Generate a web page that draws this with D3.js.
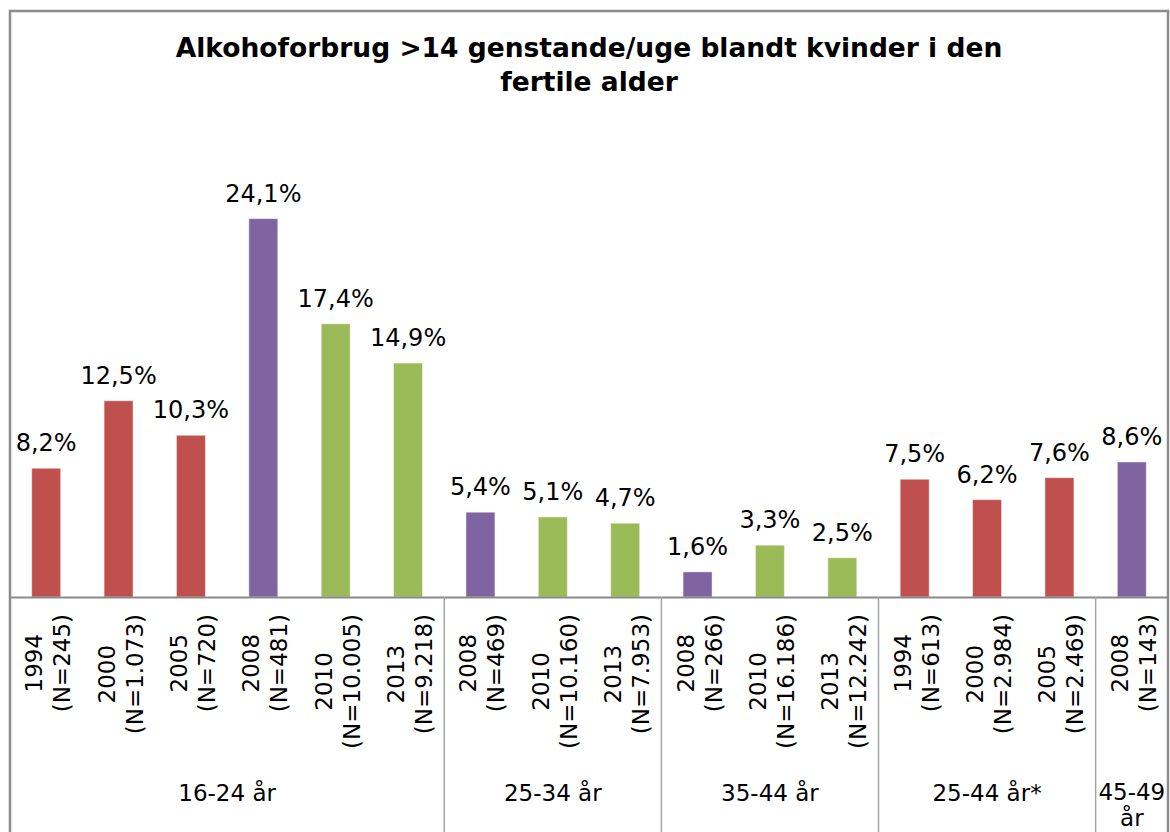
<!DOCTYPE html>
<html>
<head>
<meta charset="utf-8">
<script src="https://cdn.jsdelivr.net/npm/d3@7"></script>
<style>
  html, body { margin: 0; padding: 0; background: #fff; }
  svg { display: block; }
  text { font-family: "DejaVu Sans", Verdana, sans-serif; fill: #000; }
</style>
</head>
<body>
<svg id="chart" width="1170" height="832"></svg>
<script>
// ---- Data ----
const titleLines = ["Alkohoforbrug >14 genstande/uge blandt kvinder i den", "fertile alder"];
const groups = ["16-24 år", "25-34 år", "35-44 år", "25-44 år*", "45-49 år"];
const groupSizes = [6, 3, 3, 3, 1];
const years = ["1994", "2000", "2005", "2008", "2010", "2013",
               "2008", "2010", "2013",
               "2008", "2010", "2013",
               "1994", "2000", "2005",
               "2008"];
const nLabels = ["(N=245)", "(N=1.073)", "(N=720)", "(N=481)", "(N=10.005)", "(N=9.218)",
                 "(N=469)", "(N=10.160)", "(N=7.953)",
                 "(N=266)", "(N=16.186)", "(N=12.242)",
                 "(N=613)", "(N=2.984)", "(N=2.469)",
                 "(N=143)"];
const values = [8.2, 12.5, 10.3, 24.1, 17.4, 14.9,
                5.4, 5.1, 4.7,
                1.6, 3.3, 2.5,
                7.5, 6.2, 7.6,
                8.6];
const seriesOf = ["A", "A", "A", "B", "C", "C",
                  "B", "C", "C",
                  "B", "C", "C",
                  "A", "A", "A",
                  "B"];
const seriesKeys = ["A", "B", "C"];
const seriesColors = ["#C0504D", "#8064A2", "#9BBB59"];

(function () {
// ---- Build rows ----
const groupOf = [];
groups.forEach((g, gi) => { for (let k = 0; k < groupSizes[gi]; k++) groupOf.push(g); });
const rows = values.map((v, i) => ({
  key: i, group: groupOf[i], year: years[i], n: nLabels[i], value: v, series: seriesOf[i]
}));

const svg = d3.select("#chart");
const W = 1170, H = 832;
const mLeft = 10, mRight = 1168, mTop = 11;
const baseY = 597;

const x = d3.scaleBand().domain(rows.map(d => d.key)).range([mLeft, mRight])
  .paddingInner(0.6).paddingOuter(0.3);
const y = d3.scaleLinear().domain([0, 30]).range([baseY, baseY - 471]);
const color = d3.scaleOrdinal().domain(seriesKeys).range(seriesColors);
const fmt = v => d3.format(".1f")(v).replace(".", ",") + "%";

// Title
const title = svg.append("text")
  .attr("x", 589).attr("text-anchor", "middle")
  .style("font-weight", "bold").style("font-size", "26.5px");
titleLines.forEach((t, i) => {
  title.append("tspan").attr("x", 589).attr("y", 57 + i * 34).text(t);
});

// Bars
svg.append("g").selectAll("rect").data(rows).join("rect")
  .attr("x", d => x(d.key))
  .attr("y", d => y(d.value))
  .attr("width", x.bandwidth())
  .attr("height", d => y(0) - y(d.value))
  .attr("fill", d => color(d.series))
  .attr("stroke", "rgba(255,255,255,0.45)")
  .attr("stroke-width", 1);

// Value labels
svg.append("g").selectAll("text").data(rows).join("text")
  .attr("x", d => x(d.key) + x.bandwidth() / 2)
  .attr("y", d => y(d.value) - 17)
  .attr("text-anchor", "middle")
  .style("font-size", "24px")
  .text(d => fmt(d.value));

// Axis line
const axis = svg.append("g").attr("transform", `translate(0,${baseY})`)
  .call(d3.axisBottom(x).tickSize(0).tickSizeOuter(0).tickFormat(""));
axis.select(".domain").attr("stroke", "#8a8a8a").attr("stroke-width", 2);

// Category labels (rotated)
const catG = svg.append("g");
rows.forEach(d => {
  const cx = x(d.key) + x.bandwidth() / 2;
  const t = catG.append("text").style("font-size", "23px").attr("text-anchor", "middle");
  const l1 = t.append("tspan").text(d.year);
  const l2 = t.append("tspan").text(d.n);
  const w = Math.max(l1.node().getComputedTextLength(), l2.node().getComputedTextLength());
  const cy = 614 + w / 2;
  t.attr("transform", `translate(${cx},${cy}) rotate(-90)`);
  l1.attr("x", 0).attr("y", -4);
  l2.attr("x", 0).attr("y", 24);
});

// Group separators and labels
const bounds = [];
let start = 0;
groups.forEach((g, gi) => {
  const first = start, last = start + groupSizes[gi] - 1;
  const pad = (x.step() - x.bandwidth()) / 2;
  const x0 = x(first) - pad, x1 = x(last) + x.bandwidth() + pad;
  bounds.push({ g, x0, x1 });
  start += groupSizes[gi];
});
svg.append("g").selectAll("line").data(bounds.slice(1)).join("line")
  .attr("x1", d => d.x0).attr("x2", d => d.x0)
  .attr("y1", baseY).attr("y2", H)
  .attr("stroke", "#a6a6a6").attr("stroke-width", 1.5);

const gl = svg.append("g");
bounds.forEach(b => {
  const t = gl.append("text").attr("text-anchor", "middle").style("font-size", "23px");
  const cx = (b.x0 + b.x1) / 2;
  t.text(b.g);
  if (t.node().getComputedTextLength() > (b.x1 - b.x0)) {
    t.text(null);
    b.g.split(" ").forEach((w, i) => t.append("tspan").attr("x", cx).attr("y", 800 + i * 26).text(w));
  } else {
    t.attr("x", cx).attr("y", 801);
  }
});

// Outer border
svg.append("path")
  .attr("d", `M${mLeft},${H + 5} L${mLeft},${mTop} L${mRight},${mTop} L${mRight},${H + 5}`)
  .attr("fill", "none").attr("stroke", "#8c8c8c").attr("stroke-width", 2.5);
})();
</script>
</body>
</html>
